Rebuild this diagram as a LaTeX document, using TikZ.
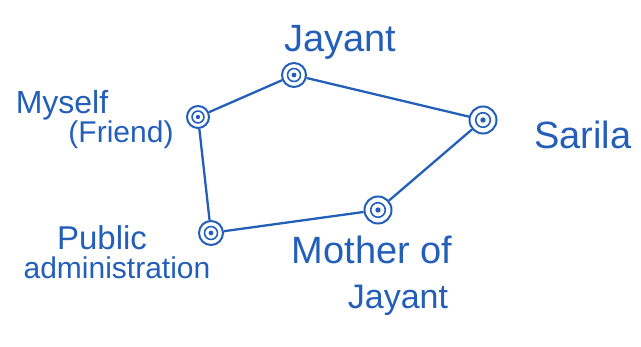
\documentclass[tikz,border=0pt]{standalone}
\usepackage{fontspec}
\setmainfont{Liberation Sans}
\definecolor{ink}{RGB}{35,95,185}
\tikzset{
  vert/.style={circle, draw=ink, line width=2pt, minimum size=#1, inner sep=0pt,
    path picture={\draw[ink, line width=1.6pt] (path picture bounding box.center) circle (0.27*#1);
                  \fill[ink] (path picture bounding box.center) circle (0.1*#1);}},
  edge/.style={draw=ink, line width=2.3pt},
  lab/.style={text=ink, inner sep=0pt},
}
\begin{document}
\begin{tikzpicture}[x=1pt,y=-1pt]
\useasboundingbox (0,0) rectangle (641,347);
% vertices
\node[vert=24pt] (jay) at (294,75) {};
\node[vert=27pt] (sar) at (483,120) {};
\node[vert=22pt] (me) at (198,117) {};
\node[vert=24pt] (pub) at (211,233) {};
\node[vert=27pt] (mom) at (378,210) {};
% edges
\draw[edge] (jay) -- (sar);
\draw[edge] (sar) -- (mom);
\draw[edge] (mom) -- (pub);
\draw[edge] (pub) -- (me);
\draw[edge] (me) -- (jay);
% labels
\node[lab, font=\fontsize{38}{42}\selectfont] (tjay) at (340,42) {Jayant};
\node[lab, font=\fontsize{38}{42}\selectfont, anchor=west] (tsar) at (534,135) {Sarila};
\node[lab, font=\fontsize{32}{34}\selectfont] (tme1) at (62,105) {Myself};
\node[lab, font=\fontsize{30}{32}\selectfont] (tme2) at (121,135) {(Friend)};
\node[lab, font=\fontsize{33}{34}\selectfont] (tpub1) at (102,238) {Public};
\node[lab, font=\fontsize{30}{32}\selectfont] (tpub2) at (117,268) {administration};
\node[lab, font=\fontsize{38}{42}\selectfont] (tmom1) at (372,250) {Mother of};
\node[lab, font=\fontsize{34}{36}\selectfont] (tmom2) at (398,300) {Jayant};
\end{tikzpicture}
\end{document}
